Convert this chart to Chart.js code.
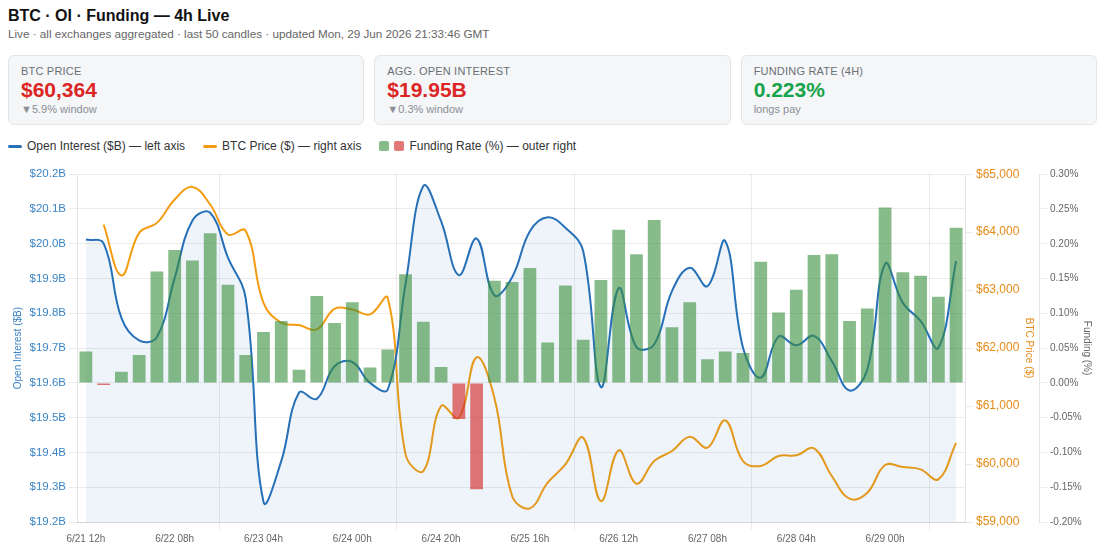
<!DOCTYPE html>
<html>
<head>
<meta charset="utf-8">
<title>BTC · OI · Funding — 4h Live</title>
<script src="https://cdn.jsdelivr.net/npm/chart.js@4.4.1/dist/chart.umd.min.js"></script>
<style>
  body { margin: 0; padding: 6px 8px 0; font-family: "Liberation Sans", Arial, Helvetica, sans-serif; color: #111; background: #fff; }
  h1 { font-size: 16px; line-height: 20px; margin: 0; font-weight: 700; }
  .sub { font-size: 11.7px; line-height: 16px; color: #666; }
  .cards { display: grid; grid-template-columns: repeat(3, 1fr); gap: 10px; margin-top: 13px; }
  .card { background: #f5f6f8; border: 1px solid #e3e5e9; border-radius: 6px; padding: 8px 12px; height: 70px; box-sizing: border-box; }
  .card .lbl { font-size: 11px; line-height: 14px; color: #6b6f76; letter-spacing: 0.2px; }
  .card .val { font-size: 21px; line-height: 24px; font-weight: 700; }
  .card .chg { font-size: 11px; line-height: 14px; color: #8a8f96; }
  .down { color: #dc2626; }
  .up { color: #16a34a; }
  .legend { display: flex; align-items: center; gap: 18px; margin-top: 14px; font-size: 12px; line-height: 14px; color: #333; }
  .legend .item { display: flex; align-items: center; gap: 5px; }
  .legend .line { width: 14px; height: 3px; border-radius: 2px; display: inline-block; }
  .legend .sq { width: 10px; height: 10px; border-radius: 2px; display: inline-block; }
  .wrap { position: relative; height: 384px; margin-top: 11px; }
</style>
</head>
<body>
<h1>BTC · OI · Funding — 4h Live</h1>
<div class="sub">Live · all exchanges aggregated · last 50 candles · updated Mon, 29 Jun 2026 21:33:46 GMT</div>

<div class="cards">
  <div class="card">
    <div class="lbl">BTC PRICE</div>
    <div class="val" id="pxVal"></div>
    <div class="chg" id="pxChg"></div>
  </div>
  <div class="card">
    <div class="lbl">AGG. OPEN INTEREST</div>
    <div class="val" id="oiVal"></div>
    <div class="chg" id="oiChg"></div>
  </div>
  <div class="card">
    <div class="lbl">FUNDING RATE (4H)</div>
    <div class="val" id="frVal"></div>
    <div class="chg" id="frChg"></div>
  </div>
</div>

<div class="legend">
  <div class="item"><span class="line" style="background:#2670b8"></span>Open Interest ($B) — left axis</div>
  <div class="item"><span class="line" style="background:#f39c12"></span>BTC Price ($) — right axis</div>
  <div class="item"><span class="sq" style="background:rgba(56,142,60,0.6)"></span><span class="sq" style="background:rgba(211,47,47,0.65)"></span>Funding Rate (%) — outer right</div>
</div>

<div class="wrap"><canvas id="chart"></canvas></div>

<script>
// ---------------------------------------------- data (4h candles) ----------------------------------------------
const candleLabels = [
    "6/21 12h", "6/21 16h", "6/21 20h", "6/22 00h", "6/22 04h", "6/22 08h", "6/22 12h", "6/22 16h", "6/22 20h", "6/23 00h",
    "6/23 04h", "6/23 08h", "6/23 12h", "6/23 16h", "6/23 20h", "6/24 00h", "6/24 04h", "6/24 08h", "6/24 12h", "6/24 16h",
    "6/24 20h", "6/25 00h", "6/25 04h", "6/25 08h", "6/25 12h", "6/25 16h", "6/25 20h", "6/26 00h", "6/26 04h", "6/26 08h",
    "6/26 12h", "6/26 16h", "6/26 20h", "6/27 00h", "6/27 04h", "6/27 08h", "6/27 12h", "6/27 16h", "6/27 20h", "6/28 00h",
    "6/28 04h", "6/28 08h", "6/28 12h", "6/28 16h", "6/28 20h", "6/29 00h", "6/29 04h", "6/29 08h", "6/29 12h", "6/29 16h"
];

// aggregated open interest, $B
const openInterest = [
    20.012, 20.001, 19.787, 19.722, 19.732, 19.902, 20.067, 20.089, 19.960, 19.843,
    19.258, 19.375, 19.572, 19.554, 19.648, 19.660, 19.600, 19.581, 19.885, 20.166,
    20.065, 19.910, 20.015, 19.852, 19.904, 20.036, 20.076, 20.046, 19.979, 19.588,
    19.872, 19.703, 19.711, 19.864, 19.931, 19.878, 20.008, 19.701, 19.615, 19.733,
    19.708, 19.735, 19.663, 19.578, 19.639, 19.942, 19.830, 19.778, 19.701, 19.950
];

// BTC close, $ (first candle has no price)
const btcPrice = [
    null, 64132, 63253, 63988, 64160, 64564, 64781, 64477, 63960, 64025,
    62780, 62437, 62397, 62322, 62678, 62667, 62581, 62862, 60167, 59879,
    61000, 60799, 61840, 61144, 59448, 59236, 59678, 59995, 60454, 59362,
    60237, 59661, 60052, 60224, 60471, 60282, 60753, 60052, 59966, 60138,
    60150, 60270, 59793, 59402, 59506, 59983, 59948, 59908, 59736, 60364
];

// funding rate, %
const fundingRate = [
    0.045, -0.003, 0.016, 0.040, 0.160, 0.191, 0.176, 0.215, 0.141, 0.040,
    0.073, 0.089, 0.019, 0.125, 0.086, 0.116, 0.022, 0.048, 0.156, 0.088,
    0.023, -0.052, -0.153, 0.147, 0.145, 0.165, 0.058, 0.140, 0.062, 0.148,
    0.220, 0.185, 0.234, 0.080, 0.116, 0.034, 0.045, 0.043, 0.174, 0.101,
    0.134, 0.184, 0.185, 0.089, 0.107, 0.252, 0.159, 0.154, 0.124, 0.223
];

// axis ranges
const oiRange = [19.2, 20.2];
const pxRange = [59000, 65000];
const frRange = [-0.2, 0.3];

const BLUE = "#2670b8";
const BLUE_TXT = "#3b84c4";
const ORANGE = "#f39c12";
const ORANGE_TXT = "#e68a17";
const GREEN = "rgba(56,142,60,0.6)";
const RED = "rgba(211,47,47,0.65)";
const GRID = "rgba(0,0,0,0.08)";

// ---------------------------------------------- stat cards ----------------------------------------------
const fillCards = () => {
    const prices = btcPrice.filter(v => v !== null);
    const lastPx = prices[prices.length - 1];
    const pxPct = (lastPx / prices[0] - 1) * 100;
    document.querySelector("#pxVal").innerHTML = "$" + lastPx.toLocaleString("en-US");
    document.querySelector("#pxVal").className = "val " + (pxPct < 0 ? "down" : "up");
    document.querySelector("#pxChg").innerHTML = (pxPct < 0 ? "▼" : "▲") + Math.abs(pxPct).toFixed(1) + "% window";

    const lastOi = openInterest[openInterest.length - 1];
    const oiPct = (lastOi / openInterest[0] - 1) * 100;
    document.querySelector("#oiVal").innerHTML = "$" + lastOi.toFixed(2) + "B";
    document.querySelector("#oiVal").className = "val " + (oiPct < 0 ? "down" : "up");
    document.querySelector("#oiChg").innerHTML = (oiPct < 0 ? "▼" : "▲") + Math.abs(oiPct).toFixed(1) + "% window";

    const lastFr = fundingRate[fundingRate.length - 1];
    document.querySelector("#frVal").innerHTML = lastFr.toFixed(3) + "%";
    document.querySelector("#frVal").className = "val " + (lastFr < 0 ? "down" : "up");
    document.querySelector("#frChg").innerHTML = lastFr >= 0 ? "longs pay" : "shorts pay";
}

// ---------------------------------------------- chart ----------------------------------------------
const drawChart = () => {
    Chart.defaults.font.family = '"Liberation Sans", Arial, Helvetica, sans-serif';
    const ctx = document.getElementById("chart");

    new Chart(ctx, {
        type: "bar",
        data: {
            labels: candleLabels,
            datasets: [
                {
                    type: "bar",
                    label: "Funding Rate (%)",
                    data: fundingRate,
                    yAxisID: "yFund",
                    order: 0,
                    backgroundColor: fundingRate.map(v => v >= 0 ? GREEN : RED)
                },
                {
                    type: "line",
                    label: "Open Interest ($B)",
                    data: openInterest,
                    yAxisID: "yOI",
                    order: 1,
                    borderColor: BLUE,
                    borderWidth: 2,
                    tension: 0.4,
                    pointRadius: 0,
                    fill: "start",
                    backgroundColor: "rgba(38,112,184,0.08)"
                },
                {
                    type: "line",
                    label: "BTC Price ($)",
                    data: btcPrice,
                    yAxisID: "yPx",
                    order: 2,
                    borderColor: ORANGE,
                    borderWidth: 2,
                    tension: 0.4,
                    pointRadius: 0,
                    fill: false
                }
            ]
        },
        options: {
            responsive: true,
            maintainAspectRatio: false,
            animation: false,
            plugins: {
                legend: { display: false },
                tooltip: { enabled: false }
            },
            scales: {
                x: {
                    ticks: { maxRotation: 0, autoSkip: true, maxTicksLimit: 10, color: "#666", font: { size: 10 } },
                    grid: { color: GRID }
                },
                yOI: {
                    position: "left",
                    min: oiRange[0],
                    max: oiRange[1],
                    afterFit: scale => { scale.width = 69; },
                    ticks: {
                        stepSize: 0.1,
                        color: BLUE_TXT,
                        font: { size: 11.5 },
                        callback: v => "$" + v.toFixed(1) + "B"
                    },
                    title: { display: true, text: "Open Interest ($B)", color: BLUE_TXT, font: { size: 10 } },
                    grid: { color: GRID }
                },
                yPx: {
                    position: "right",
                    min: pxRange[0],
                    max: pxRange[1],
                    afterFit: scale => { scale.width = 74; },
                    ticks: {
                        stepSize: 1000,
                        color: ORANGE_TXT,
                        font: { size: 12 },
                        callback: v => "$" + Math.round(v).toLocaleString("en-US")
                    },
                    title: { display: true, text: "BTC Price ($)", color: ORANGE_TXT, font: { size: 10 } },
                    grid: { drawOnChartArea: false, color: GRID }
                },
                yFund: {
                    position: "right",
                    min: frRange[0],
                    max: frRange[1],
                    afterFit: scale => { scale.width = 58; },
                    ticks: {
                        stepSize: 0.05,
                        color: "#666",
                        font: { size: 10 },
                        callback: v => (Math.abs(v) < 1e-9 ? 0 : v).toFixed(2) + "%"
                    },
                    title: { display: true, text: "Funding (%)", color: "#666", font: { size: 10 } },
                    grid: { drawOnChartArea: false, color: GRID }
                }
            }
        }
    });
}

window.addEventListener("load", () => {
    fillCards();
    drawChart();
})
</script>
</body>
</html>
